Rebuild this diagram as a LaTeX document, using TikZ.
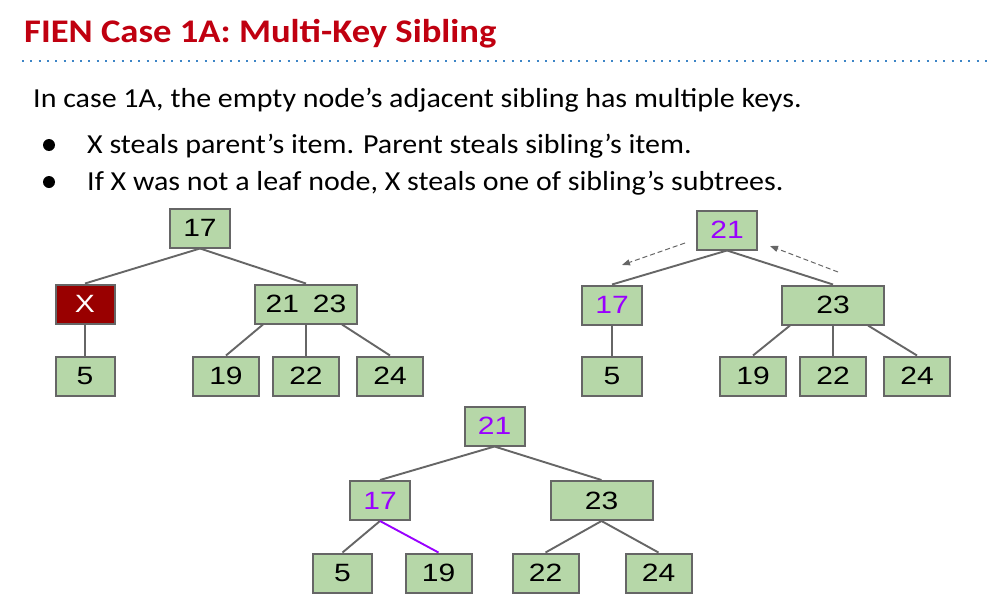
\documentclass[tikz,border=0pt]{standalone}
\usepackage{fontspec}
\usetikzlibrary{arrows.meta}
\newfontfamily\carlitotitle[FakeStretch=1.11]{Carlito}
\newfontfamily\carlitobody[FakeStretch=1.09]{Carlito}
\newfontfamily\arialish[FakeStretch=1.2]{Liberation Sans}
\definecolor{titlered}{RGB}{192,0,16}
\definecolor{dotblue}{RGB}{61,133,198}
\definecolor{nodegreen}{RGB}{182,215,168}
\definecolor{edgegrey}{RGB}{102,102,102}
\definecolor{xred}{RGB}{153,0,0}
\definecolor{violet}{RGB}{153,0,255}
\tikzset{
  tnode/.style={draw=edgegrey, line width=2pt, fill=nodegreen, minimum height=39pt, minimum width=59pt, inner sep=0pt, font=\arialish\fontsize{25}{25}\selectfont},
  wide/.style={minimum width=66pt},
  wider/.style={minimum width=102pt},
  edge/.style={draw=edgegrey, line width=1.9pt},
  movearrow/.style={draw=edgegrey, line width=1pt, dash pattern=on 5pt off 3pt, -{Triangle[length=8pt,width=6pt]}},
  bodytext/.style={anchor=base west, inner sep=0pt, font=\carlitobody\fontsize{27.5}{27.5}\selectfont}
}
\begin{document}
\begin{tikzpicture}[x=1pt,y=-1pt]
\useasboundingbox[fill=white] (0,0) rectangle (990,597);
% header
\node[anchor=base west, inner sep=0pt, text=titlered, font=\carlitotitle\bfseries\fontsize{33}{33}\selectfont] (title) at (24,42) {FIEN Case 1A: Multi-Key Sibling};
\draw[dotblue, line width=2pt, dash pattern=on 2pt off 6.3pt] (22,61) -- (990,61);
\node[bodytext] (intro) at (33,107) {In case 1A, the empty node’s adjacent sibling has multiple keys.};
\fill (49,145) circle (6pt);
\fill (49,182) circle (6pt);
\node[bodytext] (b1) at (87,153) {X steals parent’s item. Parent steals sibling’s item.};
\node[bodytext] (b2) at (87,190) {If X was not a leaf node, X steals one of sibling’s subtrees.};
% left tree
\node[tnode, minimum width=60pt] (a17) at (200,228) {17};
\node[tnode, fill=xred, text=white] (aX) at (85,304) {X};
\node[tnode, wider] (a2123) at (306,304) {21\hspace{14pt}23};
\node[tnode] (a5) at (85,376) {5};
\node[tnode, wide] (a19) at (226,376) {19};
\node[tnode, wide] (a22) at (306,376) {22};
\node[tnode, wide] (a24) at (390,376) {24};
\draw[edge] (a17.south) -- (aX.north);
\draw[edge] (a17.south) -- (a2123.north);
\draw[edge] (aX.south) -- (a5.north);
\draw[edge] ([xshift=-43pt]a2123.south) -- (a19.north);
\draw[edge] (a2123.south) -- (a22.north);
\draw[edge] ([xshift=36pt]a2123.south) -- (a24.north);
% right tree
\node[tnode, minimum width=60pt, text=violet] (b21) at (727,230) {21};
\node[tnode, minimum width=60pt, text=violet] (b17) at (612,305) {17};
\node[tnode, wider] (b23) at (833,305) {23};
\node[tnode, minimum width=60pt] (b5) at (612,376) {5};
\node[tnode, wide] (b19) at (753,376) {19};
\node[tnode, wide] (b22) at (833,376) {22};
\node[tnode, wide] (b24) at (917,376) {24};
\draw[edge] (b21.south) -- (b17.north);
\draw[edge] (b21.south) -- (b23.north);
\draw[edge] (b17.south) -- (b5.north);
\draw[edge] ([xshift=-43pt]b23.south) -- (b19.north);
\draw[edge] (b23.south) -- (b22.north);
\draw[edge] ([xshift=35pt]b23.south) -- (b24.north);
\coordinate (m1s) at (685,243);
\coordinate (m1e) at (622,265);
\coordinate (m2s) at (838,272);
\coordinate (m2e) at (770,246);
\draw[movearrow] (m1s) -- (m1e);
\draw[movearrow] (m2s) -- (m2e);
% bottom tree
\node[tnode, minimum width=60pt, text=violet] (c21) at (494.5,426) {21};
\node[tnode, minimum width=60pt, text=violet] (c17) at (380,500.5) {17};
\node[tnode, wider] (c23) at (601.5,500.5) {23};
\node[tnode] (c5) at (342.5,573) {5};
\node[tnode, wide] (c19) at (438.5,573) {19};
\node[tnode, wide] (c22) at (545.5,573) {22};
\node[tnode, wide] (c24) at (658.5,573) {24};
\draw[edge] (c21.south) -- (c17.north);
\draw[edge] (c21.south) -- (c23.north);
\draw[edge] (c17.south) -- (c5.north);
\draw[edge, draw=violet] (c17.south) -- (c19.north);
\draw[edge] (c23.south) -- (c22.north);
\draw[edge] (c23.south) -- (c24.north);
\end{tikzpicture}
\end{document}
